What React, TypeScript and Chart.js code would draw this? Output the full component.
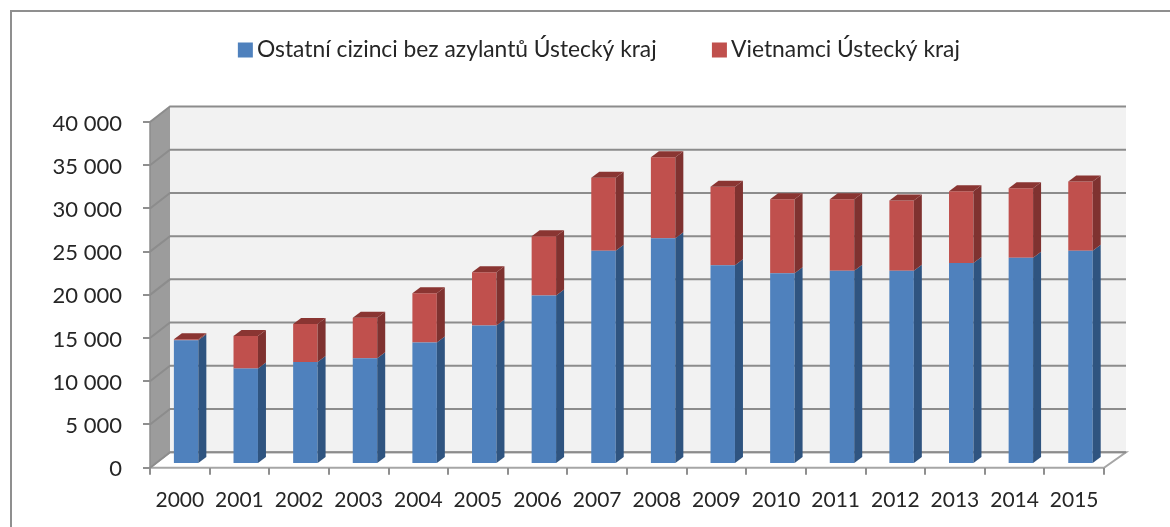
import React, { useEffect, useRef } from "react";
import { Chart, registerables } from "chart.js";

Chart.register(...registerables);

const years = ["2000","2001","2002","2003","2004","2005","2006","2007","2008","2009","2010","2011","2012","2013","2014","2015"];
const others = [14300,11030,11800,12220,14040,16000,19480,24650,26110,22990,22060,22340,22340,23260,23840,24650];
const vietnamese = [120,3780,4400,4680,5710,6180,6860,8450,9380,9070,8570,8290,8130,8290,8060,8020];

const FONT = "Lato, 'Open Sans', sans-serif";
const TEXT = "#262626";
const LINE = "#8f8f8f";
const WALL_DX = 20;
const WALL_DY = -15.5;
const WALL_EXTRA = 2;
const BAR_DX = 6.3;
const BAR_DY = -3.8;
const SIDE_DX = 8;
const SIDE_DY = -6;
const LEGEND_SHIFT = 44.5;

const sceneryPlugin = {
  id: "scenery",
  beforeLayout(chart: any) {
    const legend = chart.legend;
    if (legend && !legend.__wrapped) {
      const fit = legend.fit;
      legend.fit = function () {
        fit.call(this);
        this.height = 146;
      };
      legend.__wrapped = true;
    }
  },
  afterLayout(chart: any) {
    const legend = chart.legend;
    legend.left += LEGEND_SHIFT;
    legend.right += LEGEND_SHIFT;
    legend.adjustHitBoxes();
  },
  beforeDraw(chart: any) {
    const { ctx, chartArea: a, scales } = chart;
    const { left: l, right: r, top: t, bottom: b } = a;
    const backRight = r + WALL_DX + WALL_EXTRA;
    ctx.save();
    // outer frame
    ctx.strokeStyle = LINE;
    ctx.lineWidth = 2;
    ctx.beginPath();
    ctx.moveTo(1170, 11);
    ctx.lineTo(11, 11);
    ctx.lineTo(11, 527);
    ctx.stroke();
    // back wall
    ctx.fillStyle = "#f2f2f2";
    ctx.fillRect(l + WALL_DX, t + WALL_DY, backRight - l - WALL_DX, b - t);
    // side wall
    ctx.fillStyle = "#9c9c9c";
    ctx.beginPath();
    ctx.moveTo(l, t);
    ctx.lineTo(l + WALL_DX, t + WALL_DY);
    ctx.lineTo(l + WALL_DX, b + WALL_DY);
    ctx.lineTo(l, b);
    ctx.closePath();
    ctx.fill();
    // floor
    ctx.fillStyle = "#ffffff";
    ctx.strokeStyle = "#a6a6a6";
    ctx.lineWidth = 2;
    ctx.beginPath();
    ctx.moveTo(l, b);
    ctx.lineTo(r, b);
    ctx.lineTo(backRight, b + WALL_DY);
    ctx.lineTo(l + WALL_DX, b + WALL_DY);
    ctx.closePath();
    ctx.fill();
    ctx.stroke();
    // grid lines along the side wall and back wall
    for (const tick of scales.y.ticks) {
      const y = scales.y.getPixelForValue(tick.value);
      ctx.strokeStyle = "#8c8c8c";
      ctx.lineWidth = 2;
      ctx.beginPath();
      ctx.moveTo(l, y);
      ctx.lineTo(l + WALL_DX, y + WALL_DY);
      ctx.lineTo(backRight, y + WALL_DY);
      ctx.stroke();
    }
    // left edge of the side wall
    ctx.strokeStyle = "#8c8c8c";
    ctx.lineWidth = 1.5;
    ctx.beginPath();
    ctx.moveTo(l, t);
    ctx.lineTo(l, b);
    ctx.stroke();
    ctx.restore();
  },
  beforeDatasetsDraw(chart: any) {
    chart.ctx.save();
    chart.ctx.translate(BAR_DX, BAR_DY);
  },
  afterDatasetsDraw(chart: any) {
    const { ctx } = chart;
    const sides = ["#2f5480", "#7f3230"];
    const topColour = "#8a3532";
    const last = chart.data.datasets.length - 1;
    chart.data.datasets.forEach((_: any, d: number) => {
      for (const bar of chart.getDatasetMeta(d).data) {
        const x2 = bar.x + bar.width / 2;
        const x1 = bar.x - bar.width / 2;
        ctx.fillStyle = sides[d];
        ctx.beginPath();
        ctx.moveTo(x2, bar.y);
        ctx.lineTo(x2 + SIDE_DX, bar.y + SIDE_DY);
        ctx.lineTo(x2 + SIDE_DX, bar.base + SIDE_DY);
        ctx.lineTo(x2, bar.base);
        ctx.closePath();
        ctx.fill();
        if (d === last) {
          ctx.fillStyle = topColour;
          ctx.beginPath();
          ctx.moveTo(x1, bar.y);
          ctx.lineTo(x1 + SIDE_DX, bar.y + SIDE_DY);
          ctx.lineTo(x2 + SIDE_DX, bar.y + SIDE_DY);
          ctx.lineTo(x2, bar.y);
          ctx.closePath();
          ctx.fill();
        }
      }
    });
    ctx.restore();
  },
};

export default function App() {
  const ref = useRef<HTMLCanvasElement>(null);
  useEffect(() => {
    document.body.style.margin = "0";
    document.body.style.background = "#ffffff";
    const chart = new Chart(ref.current as HTMLCanvasElement, {
      type: "bar",
      data: {
        labels: years,
        datasets: [
          { label: "Ostatní cizinci bez azylantů Ústecký kraj", data: others, backgroundColor: "#4f81bd", clip: false as any },
          { label: "Vietnamci Ústecký kraj", data: vietnamese, backgroundColor: "#c0504d", clip: false as any },
        ],
      },
      options: {
        responsive: false,
        animation: false,
        events: [],
        layout: { padding: { left: 12, right: 66, top: -24, bottom: 0 } },
        datasets: { bar: { categoryPercentage: 1, barPercentage: 0.41 } },
        scales: {
          x: {
            stacked: true,
            grid: { drawOnChartArea: false, drawTicks: true, tickLength: 7, color: LINE, lineWidth: 2 },
            border: { display: false },
            ticks: { autoSkip: false, maxRotation: 0, padding: 13, color: TEXT, font: { family: FONT, size: 21 } },
            afterFit(scale: any) { scale.height = 59.3; },
          },
          y: {
            stacked: true,
            min: 0,
            max: 40000,
            grid: { drawOnChartArea: false, drawTicks: true, tickLength: 7, color: LINE, lineWidth: 2 },
            border: { display: false },
            ticks: {
              stepSize: 5000,
              padding: 21,
              labelOffset: 1.5,
              color: TEXT,
              font: { family: FONT, size: 22 },
              callback: (v: any) => String(v).replace(/\B(?=(\d{3})+$)/g, " "),
            },
            afterFit(scale: any) { scale.width = 138; },
          },
        },
        plugins: {
          tooltip: { enabled: false },
          title: { display: false },
          legend: {
            display: true,
            position: "top",
            labels: {
              usePointStyle: true,
              pointStyle: "rect",
              boxWidth: 0.5,
              boxHeight: 15,
              padding: 62.5,
              color: TEXT,
              font: { family: FONT, size: 22.8 },
            },
          },
        },
      },
      plugins: [sceneryPlugin as any],
    });
    return () => chart.destroy();
  }, []);
  return <canvas ref={ref} width={1170} height={527} style={{ display: "block", width: 1170, height: 527, filter: "blur(0.5px)" }} />;
}
